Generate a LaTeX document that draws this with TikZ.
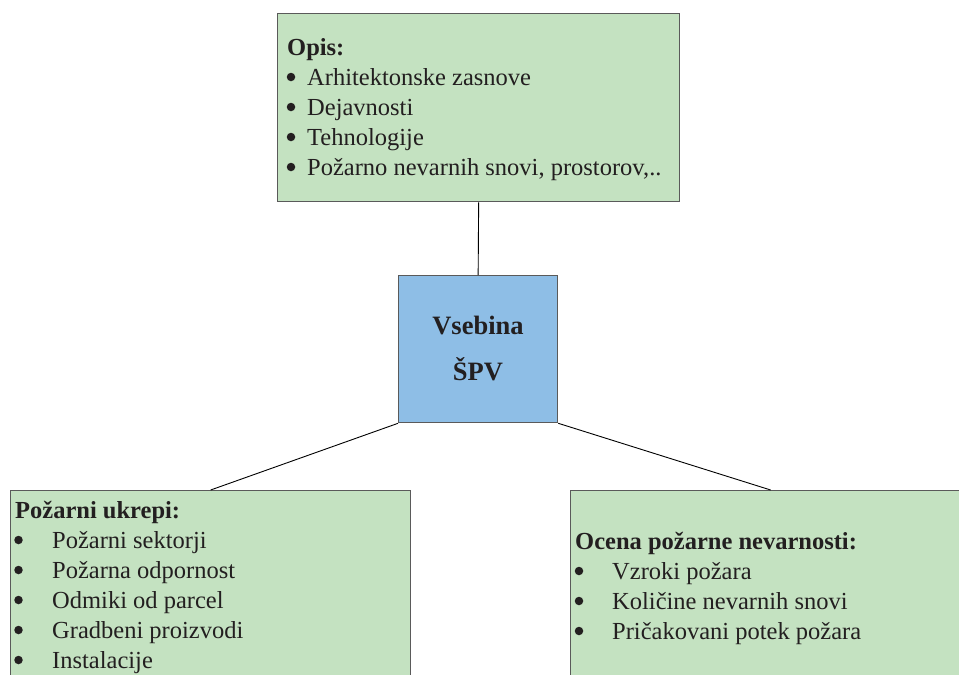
\documentclass[tikz,border=0pt]{standalone}
\usepackage{fontspec}
\setmainfont{Liberation Serif}
\definecolor{boxgreen}{HTML}{C4E2C1}
\definecolor{boxblue}{HTML}{8EBEE6}
\definecolor{boxedge}{HTML}{5A5A5A}
\definecolor{ink}{HTML}{231F20}
\begin{document}
\begin{tikzpicture}[x=1pt,y=-1pt,
  panel/.style={draw=boxedge,line width=1.3pt,anchor=north west,inner sep=0pt},
  txt/.style={anchor=base west,inner sep=0pt,text=ink,font=\fontsize{24.5}{30}\selectfont},
  head/.style={txt,font=\fontsize{24.5}{30}\selectfont\bfseries},
  dot/.style={circle,fill=ink,inner sep=0pt,minimum size=8.5pt},
  link/.style={draw=black,line width=0.9pt}]
\clip (0,0) rectangle (959,675);
\fill[white] (0,0) rectangle (959,675);

% boxes
\node[panel,fill=boxgreen,minimum width=402pt,minimum height=188pt] (opis) at (277,13) {};
\node[panel,fill=boxblue,minimum width=159pt,minimum height=147pt] (vsebina) at (398,275) {};
\node[panel,fill=boxgreen,minimum width=400pt,minimum height=220pt] (ukrepi) at (10,490) {};
\node[panel,fill=boxgreen,minimum width=400pt,minimum height=220pt] (ocena) at (570,490) {};

% connectors
\draw[link] (opis.south) -- (vsebina.north);
\draw[link] (vsebina.south west) -- (ukrepi.north);
\draw[link] (vsebina.south east) -- (ocena.north);

% centre label
\node[inner sep=0pt,text=ink,font=\fontsize{26.5}{46}\selectfont\bfseries,align=center] (vlabel) at (478,349) {Vsebina\\ŠPV};

% description box
\node[head] (h1) at (287,55) {Opis:};
\foreach \itm [count=\i] in {Arhitektonske zasnove,Dejavnosti,Tehnologije,{Požarno nevarnih snovi, prostorov,..}}{
  \node[dot] (b1\i) at (291,47+30*\i) {};
  \node[txt] (t1\i) at (307,55+30*\i) {\itm};
}

% fire measures box
\node[head] (h2) at (15,518) {Požarni ukrepi:};
\foreach \itm [count=\i] in {Požarni sektorji,Požarna odpornost,Odmiki od parcel,Gradbeni proizvodi,Instalacije}{
  \node[dot] (b2\i) at (18.5,510+30*\i) {};
  \node[txt] (t2\i) at (52,518+30*\i) {\itm};
}

% hazard assessment box
\node[head] (h3) at (575,549) {Ocena požarne nevarnosti:};
\foreach \itm [count=\i] in {Vzroki požara,Količine nevarnih snovi,Pričakovani potek požara}{
  \node[dot] (b3\i) at (579,541+30*\i) {};
  \node[txt] (t3\i) at (612,549+30*\i) {\itm};
}
\end{tikzpicture}
\end{document}
